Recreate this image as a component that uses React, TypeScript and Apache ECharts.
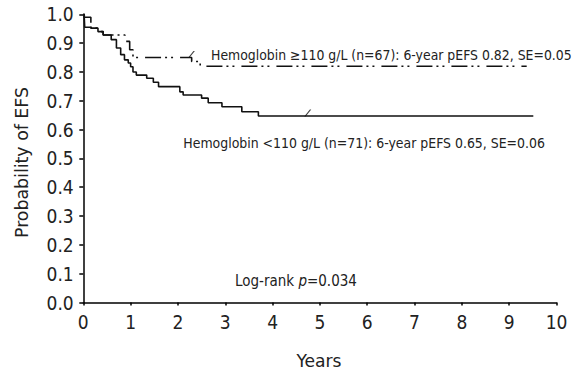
import React, { useEffect, useRef } from "react";
import * as echarts from "echarts";

const FONT = "'DejaVu Sans Condensed', 'Liberation Sans', sans-serif";

// Kaplan-Meier step data: [years, survival after event]
const highTimes = [0, 0.02, 0.16, 0.31, 0.42, 0.88, 0.98, 1.05, 2.29, 2.47, 9.37];
const highSurv = [1.0, 0.99, 0.952, 0.94, 0.928, 0.906, 0.877, 0.85, 0.836, 0.82, 0.82];
const lowTimes = [0, 0.02, 0.03, 0.17, 0.31, 0.42, 0.59, 0.7, 0.79, 0.87, 0.95, 1.0, 1.05, 1.12, 1.34, 1.48, 1.59, 2.04, 2.11, 2.5, 2.64, 2.93, 3.35, 3.7, 9.51];
const lowSurv = [1.0, 0.99, 0.955, 0.952, 0.94, 0.928, 0.912, 0.883, 0.86, 0.842, 0.831, 0.818, 0.8, 0.789, 0.778, 0.764, 0.749, 0.731, 0.72, 0.709, 0.693, 0.679, 0.662, 0.647, 0.647];
const highCensor = [[2.22, 0.85]];
const lowCensor = [[4.68, 0.647]];

const xTicks = [0, 1, 2, 3, 4, 5, 6, 7, 8, 9, 10];
const yTicks = [0, 0.1, 0.2, 0.3, 0.4, 0.5, 0.6, 0.7, 0.8, 0.9, 1.0];

const highLabel = "Hemoglobin \u2265110 g/L (n=67): 6-year pEFS 0.82, SE=0.05";
const lowLabel = "Hemoglobin <110 g/L (n=71): 6-year pEFS 0.65, SE=0.06";
const xTitle = "Years";
const yTitle = "Probability of EFS";

function fitScale(text: string, font: string, target: number): number {
  const c = document.createElement("canvas").getContext("2d");
  if (!c) return 1;
  c.font = font;
  const w = c.measureText(text).width;
  return w > 0 ? target / w : 1;
}

export default function App() {
  const ref = useRef<HTMLDivElement>(null);
  useEffect(() => {
    if (!ref.current) return;
    const chart = echarts.init(ref.current, null, { renderer: "svg" });
    const slash = "path://M0,10 L1.6,10 L8,0 L6.4,0 Z";
    const lblFont = `14px ${FONT}`;
    const titleFont = `18px ${FONT}`;
    chart.setOption({
      animation: false,
      backgroundColor: "#fff",
      grid: { left: 83.3, right: 18.5, top: 14.3, bottom: 68.5 },
      xAxis: {
        type: "value",
        min: 0,
        max: 10,
        interval: 1,
        offset: 3.3,
        axisLine: { show: true, lineStyle: { color: "#000", width: 1.5 } },
        axisTick: { show: true, length: 3, lineStyle: { color: "#000", width: 1.5 } },
        axisLabel: {
          color: "#222",
          fontFamily: FONT,
          fontSize: 19,
          margin: 7,
          formatter: (v: number) => (xTicks.includes(v) ? String(v) : ""),
        },
        splitLine: { show: false },
      },
      yAxis: {
        type: "value",
        min: 0,
        max: 1,
        interval: 0.1,
        offset: 1.6,
        axisLine: { show: true, lineStyle: { color: "#000", width: 1.5 } },
        axisTick: { show: true, length: 4, lineStyle: { color: "#000", width: 1.5 } },
        axisLabel: {
          color: "#222",
          fontFamily: FONT,
          fontSize: 19,
          margin: 8,
          formatter: (v: number) => {
            const t = yTicks.find((y) => Math.abs(y - v) < 1e-6);
            return t === undefined ? "" : t.toFixed(1);
          },
        },
        splitLine: { show: false },
      },
      series: [
        {
          type: "line",
          step: "end",
          symbol: "none",
          data: highTimes.map((t, i) => [t, highSurv[i]]),
          lineStyle: { color: "#111", width: 1.6, type: [16, 4, 2, 4, 2, 7] },
        },
        {
          type: "line",
          step: "end",
          symbol: "none",
          data: lowTimes.map((t, i) => [t, lowSurv[i]]),
          lineStyle: { color: "#111", width: 1.6, type: "solid" },
        },
        {
          type: "scatter",
          data: highCensor.concat(lowCensor),
          symbol: slash,
          symbolSize: [7, 7],
          symbolOffset: [3, -3],
          itemStyle: { color: "#111" },
        },
      ],
      graphic: [
        {
          type: "text",
          x: 211,
          y: 55,
          scaleX: fitScale(highLabel, lblFont, 361),
          style: { text: highLabel, font: lblFont, fill: "#222", verticalAlign: "middle" },
        },
        {
          type: "text",
          x: 183.3,
          y: 143,
          scaleX: fitScale(lowLabel, lblFont, 362),
          style: { text: lowLabel, font: lblFont, fill: "#222", verticalAlign: "middle" },
        },
        {
          type: "text",
          x: 235,
          y: 281,
          style: {
            text: "{n|Log-rank }{i|p}{n|=0.034}",
            verticalAlign: "middle",
            rich: {
              n: { font: `15px ${FONT}`, fill: "#222" },
              i: { font: `italic 15px ${FONT}`, fill: "#222" },
            },
          },
        },
        {
          type: "text",
          x: 319,
          y: 361,
          scaleX: fitScale(xTitle, titleFont, 45),
          style: { text: xTitle, font: titleFont, fill: "#222", align: "center", verticalAlign: "middle" },
        },
        {
          type: "text",
          x: 22,
          y: 162.5,
          rotation: Math.PI / 2,
          scaleX: fitScale(yTitle, titleFont, 151),
          style: { text: yTitle, font: titleFont, fill: "#222", align: "center", verticalAlign: "middle" },
        },
      ],
    });
    return () => chart.dispose();
  }, []);
  return <div ref={ref} style={{ width: 575, height: 371, position: "absolute", left: 0, top: 0 }} />;
}
